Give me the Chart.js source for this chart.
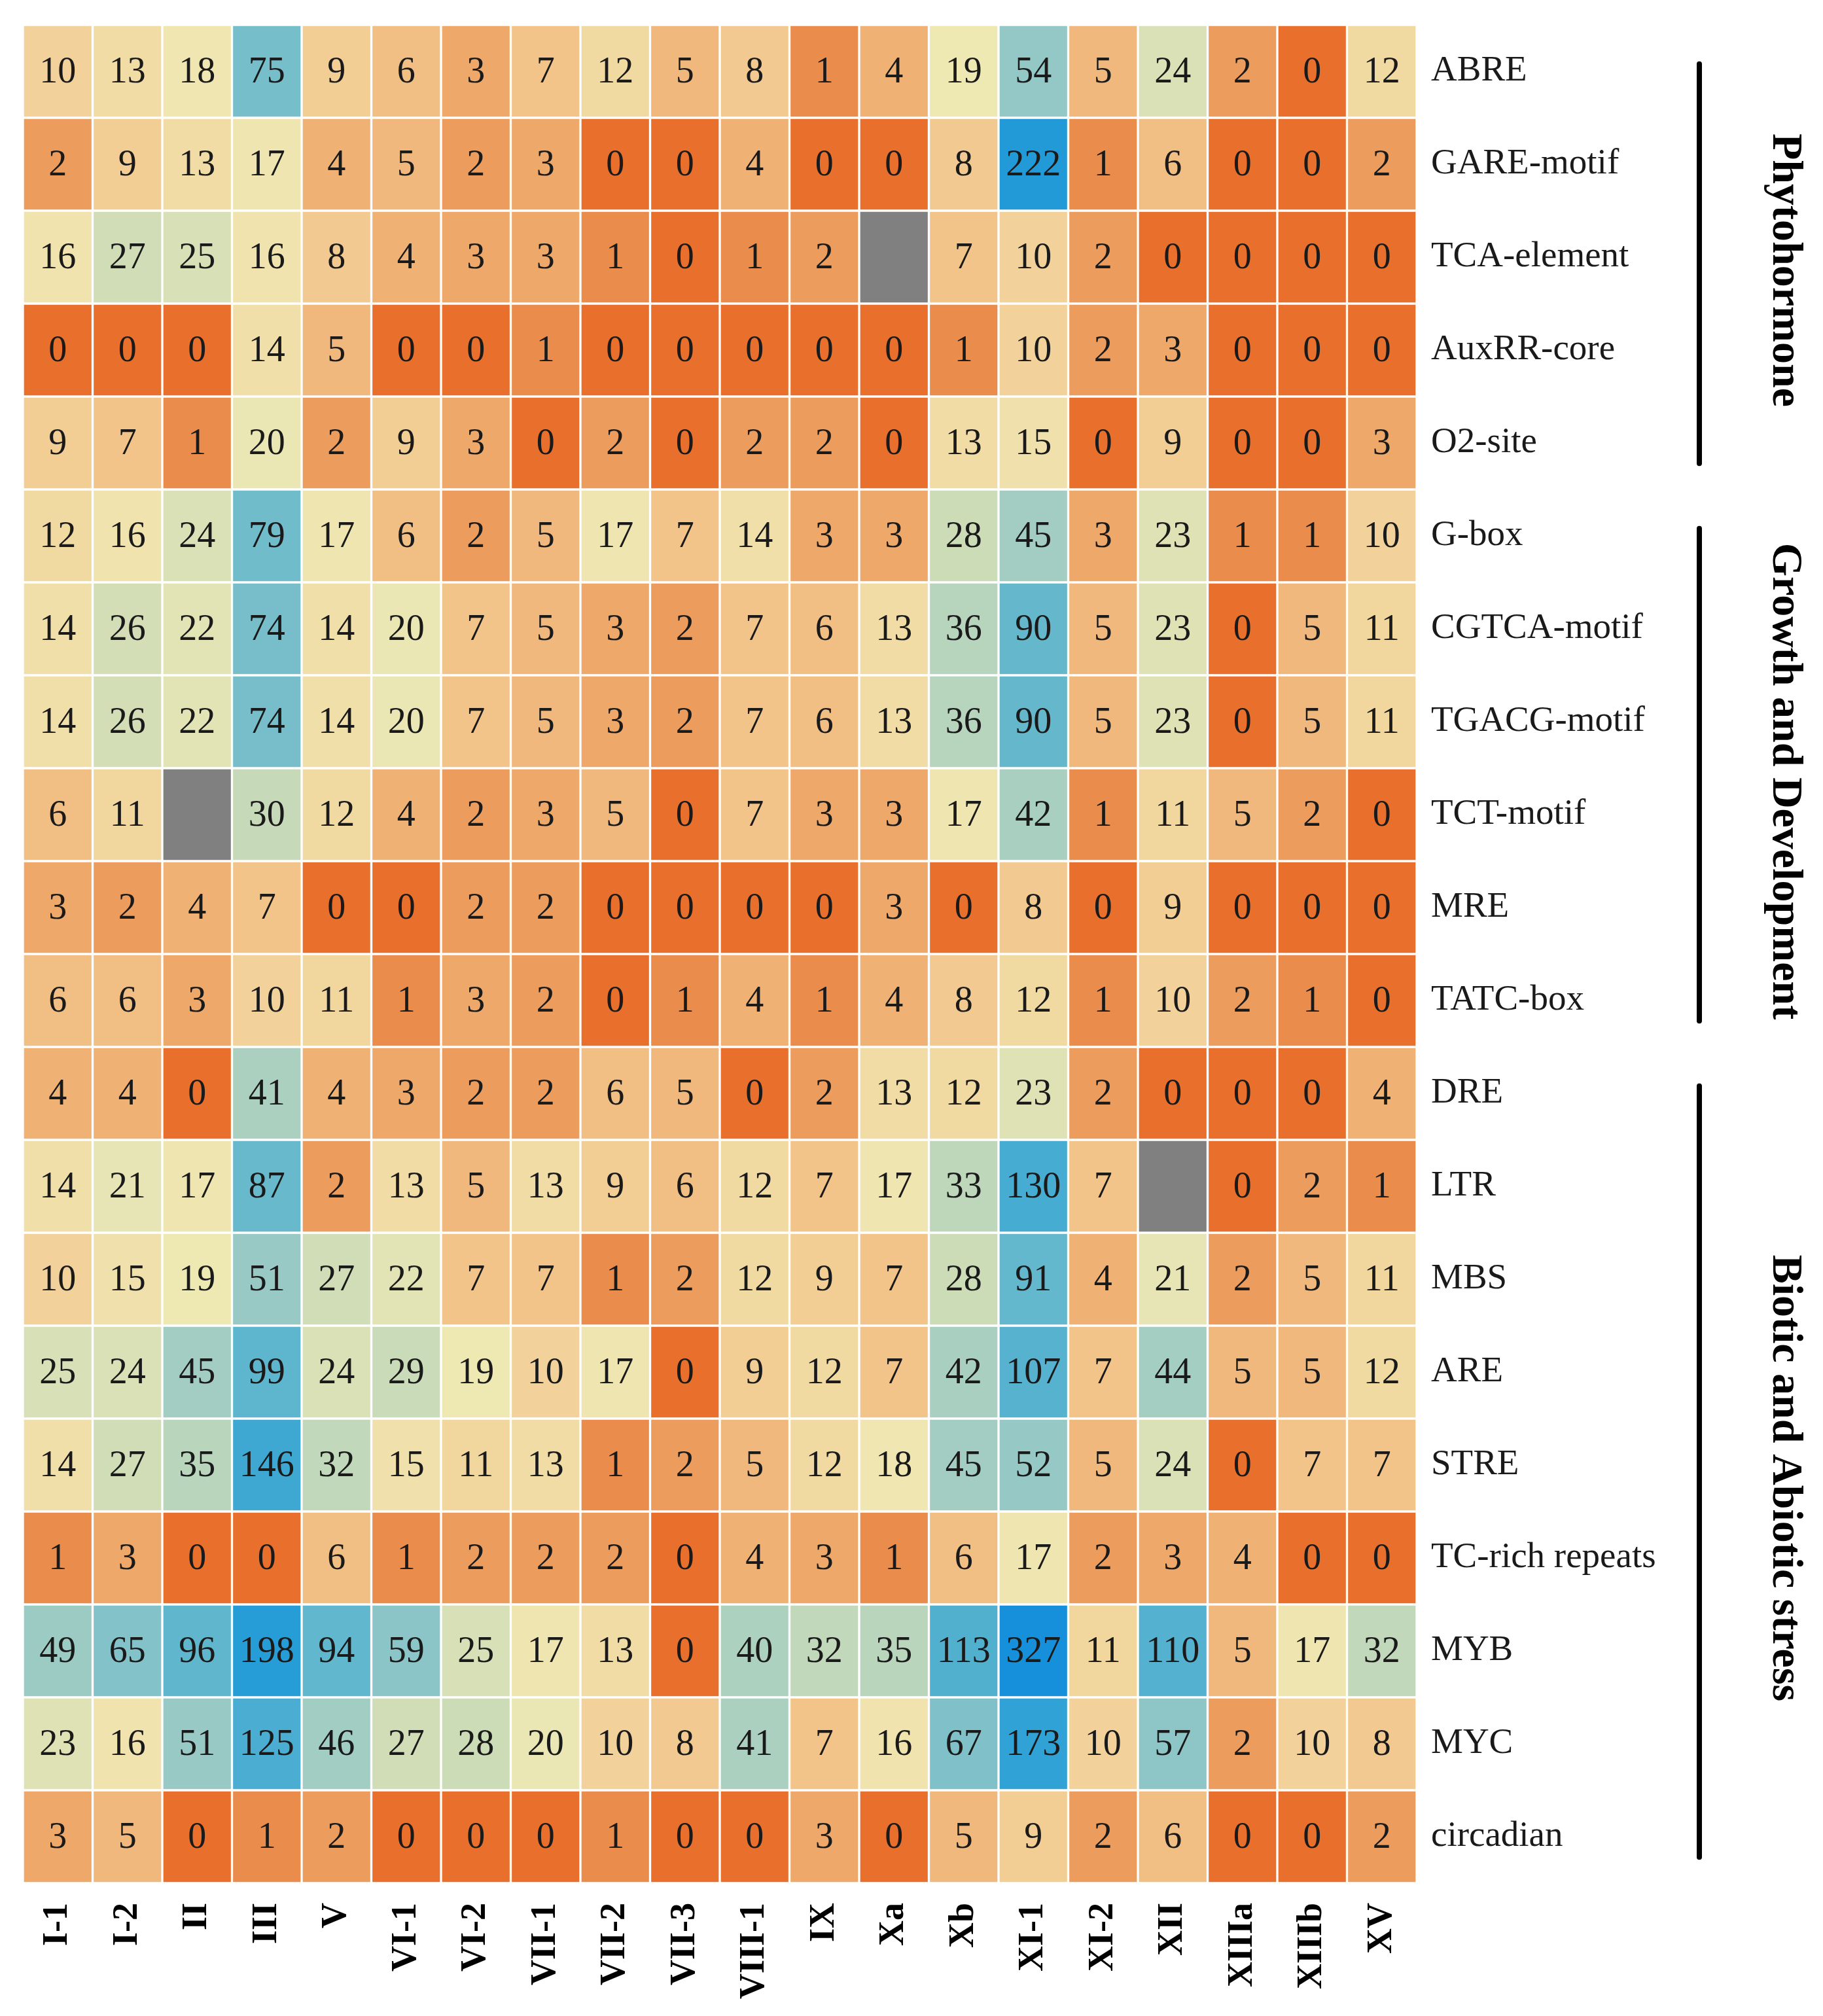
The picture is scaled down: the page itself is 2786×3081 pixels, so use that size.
<!DOCTYPE html>
<html>
<head>
<meta charset="utf-8">
<script src="https://cdn.jsdelivr.net/npm/chart.js@4.4.1/dist/chart.umd.min.js"></script>
<style>
html,body{margin:0;padding:0;background:#ffffff;}
#wrap{width:2786px;height:3081px;position:relative;}
canvas{display:block;}
</style>
</head>
<body>
<div id="wrap"><canvas id="c" width="2786" height="3081"></canvas></div>
<script>
// ---- categories ----
const columns = ['I-1','I-2','II','III','V','VI-1','VI-2','VII-1','VII-2','VII-3','VIII-1','IX','Xa','Xb','XI-1','XI-2','XII','XIIIa','XIIIb','XV'];
const rowNames = ['ABRE','GARE-motif','TCA-element','AuxRR-core','O2-site','G-box','CGTCA-motif','TGACG-motif','TCT-motif','MRE','TATC-box','DRE','LTR','MBS','ARE','STRE','TC-rich repeats','MYB','MYC','circadian'];

// ---- values (null = missing, drawn grey) ----
const ABRE        = [10,13,18,75,9,6,3,7,12,5,8,1,4,19,54,5,24,2,0,12];
const GARE_motif  = [2,9,13,17,4,5,2,3,0,0,4,0,0,8,222,1,6,0,0,2];
const TCA_element = [16,27,25,16,8,4,3,3,1,0,1,2,null,7,10,2,0,0,0,0];
const AuxRR_core  = [0,0,0,14,5,0,0,1,0,0,0,0,0,1,10,2,3,0,0,0];
const O2_site     = [9,7,1,20,2,9,3,0,2,0,2,2,0,13,15,0,9,0,0,3];
const G_box       = [12,16,24,79,17,6,2,5,17,7,14,3,3,28,45,3,23,1,1,10];
const CGTCA_motif = [14,26,22,74,14,20,7,5,3,2,7,6,13,36,90,5,23,0,5,11];
const TGACG_motif = [14,26,22,74,14,20,7,5,3,2,7,6,13,36,90,5,23,0,5,11];
const TCT_motif   = [6,11,null,30,12,4,2,3,5,0,7,3,3,17,42,1,11,5,2,0];
const MRE         = [3,2,4,7,0,0,2,2,0,0,0,0,3,0,8,0,9,0,0,0];
const TATC_box    = [6,6,3,10,11,1,3,2,0,1,4,1,4,8,12,1,10,2,1,0];
const DRE         = [4,4,0,41,4,3,2,2,6,5,0,2,13,12,23,2,0,0,0,4];
const LTR         = [14,21,17,87,2,13,5,13,9,6,12,7,17,33,130,7,null,0,2,1];
const MBS         = [10,15,19,51,27,22,7,7,1,2,12,9,7,28,91,4,21,2,5,11];
const ARE         = [25,24,45,99,24,29,19,10,17,0,9,12,7,42,107,7,44,5,5,12];
const STRE        = [14,27,35,146,32,15,11,13,1,2,5,12,18,45,52,5,24,0,7,7];
const TC_rich     = [1,3,0,0,6,1,2,2,2,0,4,3,1,6,17,2,3,4,0,0];
const MYB         = [49,65,96,198,94,59,25,17,13,0,40,32,35,113,327,11,110,5,17,32];
const MYC         = [23,16,51,125,46,27,28,20,10,8,41,7,16,67,173,10,57,2,10,8];
const circadian   = [3,5,0,1,2,0,0,0,1,0,0,3,0,5,9,2,6,0,0,2];

const rowValues = [ABRE,GARE_motif,TCA_element,AuxRR_core,O2_site,G_box,CGTCA_motif,TGACG_motif,TCT_motif,MRE,TATC_box,DRE,LTR,MBS,ARE,STRE,TC_rich,MYB,MYC,circadian];

// ---- groups (row index ranges) ----
const groupNames = ['Phytohormone','Growth and Development','Biotic and Abiotic stress'];
const groupFirst = [0,5,11];
const groupLast  = [4,10,19];

// ---- colour scale (log) ----
const colorStops = [
  [0.00,232,112,44],
  [0.12,234,140,76],
  [0.24,238,168,106],
  [0.36,242,196,138],
  [0.47,241,224,170],
  [0.52,238,232,180],
  [0.58,205,220,183],
  [0.69,148,200,198],
  [0.80,90,180,206],
  [0.91,40,158,215],
  [1.00,22,144,218]
];
const missingColor = '#808080';
const vmax = Math.max(...rowValues.flat().filter(v => v !== null));
function cellColor(v){
  if (v === null) return missingColor;
  const t = Math.log(v + 1) / Math.log(vmax + 1);
  for (let i = 1; i < colorStops.length; i++){
    const a = colorStops[i-1], b = colorStops[i];
    if (t <= b[0]){
      const f = (t - a[0]) / (b[0] - a[0]);
      const r = Math.round(a[1] + (b[1]-a[1])*f);
      const g = Math.round(a[2] + (b[2]-a[2])*f);
      const bl = Math.round(a[3] + (b[3]-a[3])*f);
      return `rgb(${r},${g},${bl})`;
    }
  }
  const l = colorStops[colorStops.length-1];
  return `rgb(${l[1]},${l[2]},${l[3]})`;
}

// ---- plugins ----
const cellLabels = {
  id: 'cellLabels',
  afterDatasetsDraw(chart){
    const ctx = chart.ctx;
    ctx.save();
    ctx.font = '56px "Liberation Serif"';
    ctx.fillStyle = '#1a1a1a';
    ctx.textAlign = 'center';
    ctx.textBaseline = 'middle';
    chart.data.datasets.forEach((ds, i) => {
      const meta = chart.getDatasetMeta(i);
      meta.data.forEach((bar, j) => {
        const v = rowValues[i][j];
        if (v === null) return;
        const p = bar.getCenterPoint();
        ctx.fillText(String(v), p.x, p.y + 2);
      });
    });
    ctx.restore();
  }
};

const groupBrackets = {
  id: 'groupBrackets',
  afterDraw(chart){
    const ctx = chart.ctx;
    const ys = chart.scales.yRows;
    const step = ys.getPixelForValue(1) - ys.getPixelForValue(0);
    const lineX = 2597, textX = 2727;
    ctx.save();
    groupNames.forEach((name, g) => {
      const y0 = ys.getPixelForValue(groupFirst[g]) - 0.08*step;
      const y1 = ys.getPixelForValue(groupLast[g]) + 0.22*step;
      ctx.strokeStyle = '#000';
      ctx.lineWidth = 8;
      ctx.lineCap = 'round';
      ctx.beginPath();
      ctx.moveTo(lineX, y0);
      ctx.lineTo(lineX, y1);
      ctx.stroke();
      ctx.save();
      ctx.translate(textX, (y0 + y1) / 2 + 10);
      ctx.rotate(Math.PI / 2);
      ctx.font = 'bold 66px "Liberation Serif"';
      ctx.fillStyle = '#000';
      ctx.textAlign = 'center';
      ctx.textBaseline = 'middle';
      ctx.fillText(name, 0, 0);
      ctx.restore();
    });
    ctx.restore();
  }
};

// ---- chart ----
new Chart(document.getElementById('c').getContext('2d'), {
  type: 'bar',
  data: {
    labels: columns,
    datasets: rowValues.map((vals, i) => ({
      label: rowNames[i],
      data: vals.map(() => 1),
      backgroundColor: vals.map(cellColor),
      borderColor: '#ffffff',
      borderWidth: 2,
      borderSkipped: false,
      categoryPercentage: 1,
      barPercentage: 1
    }))
  },
  options: {
    responsive: false,
    devicePixelRatio: 1,
    animation: false,
    layout: { padding: { left: 35, top: 38, right: 0, bottom: 0 } },
    plugins: { legend: { display: false }, tooltip: { enabled: false } },
    scales: {
      x: {
        stacked: true,
        position: 'bottom',
        grid: { display: false, drawTicks: false },
        border: { display: false },
        ticks: {
          autoSkip: false, maxRotation: 90, minRotation: 90, padding: 30,
          color: '#000',
          font: { family: 'Liberation Serif', size: 54, weight: 'bold' }
        },
        afterFit(s){ s.height = 203; s.paddingLeft = 0; s.paddingRight = 0; }
      },
      y: { stacked: true, min: 0, max: 20, reverse: true, display: false },
      yRows: {
        type: 'category', position: 'right', labels: rowNames, offset: true,
        grid: { display: false, drawTicks: false },
        border: { display: false },
        ticks: { padding: 22, color: '#1a1a1a', font: { family: 'Liberation Serif', size: 55 } },
        afterFit(s){ s.width = 621; s.paddingTop = 0; s.paddingBottom = 0; }
      }
    }
  },
  plugins: [cellLabels, groupBrackets]
});
</script>
</body>
</html>
